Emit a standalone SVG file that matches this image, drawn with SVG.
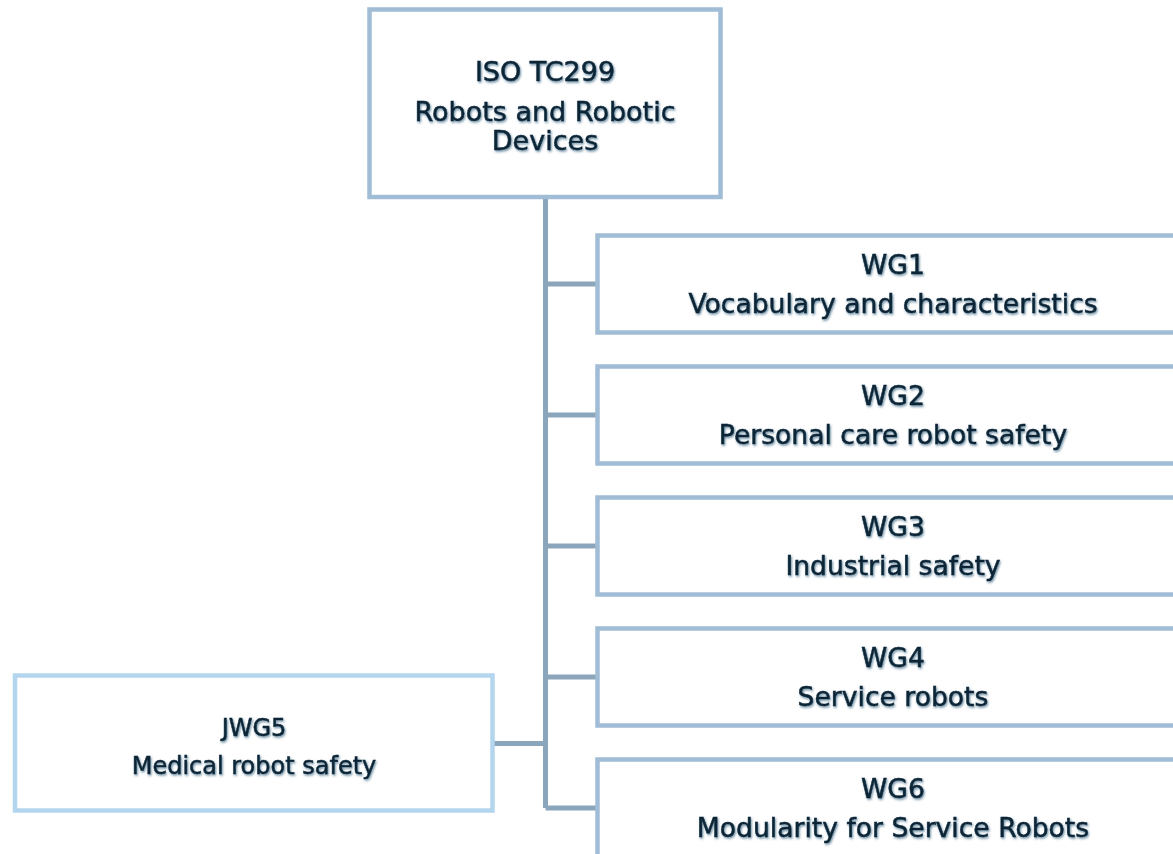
<svg xmlns="http://www.w3.org/2000/svg" width="1173" height="854" viewBox="0 0 1173 854">
<defs>
<filter id="glow" x="-10%" y="-30%" width="120%" height="160%">
<feDropShadow dx="1" dy="1.5" stdDeviation="1" flood-color="#2a5a78" flood-opacity="0.7"/>
</filter>
<style>
.box{fill:#ffffff;stroke:#a0bdd5;stroke-width:4.5}
.jbox{fill:#ffffff;stroke:#b4d5ee;stroke-width:4.5}
.conn{stroke:#8ba5bb;stroke-width:5;fill:none}
text{font-family:"DejaVu Sans","Verdana",sans-serif;font-size:26.6px;fill:#0b2536;stroke:#0b2536;stroke-width:0.5;text-anchor:middle;filter:url(#glow)}
.big{font-size:27px}
.small{font-size:24px}
</style>
</defs>
<rect width="1173" height="854" fill="#ffffff"/>
<g id="connectors">
<path class="conn" d="M545.5 199 V808"/>
<path class="conn" d="M545.5 284 H597 M545.5 415 H597 M545.5 546 H597 M545.5 677 H597 M545.5 808 H597"/>
<path class="conn" d="M494 743.5 H545.5"/>
</g>
<g id="tc299">
<rect class="box" x="369.5" y="9.5" width="351" height="187.5"/>
<text class="big" x="545" y="81">ISO TC299</text>
<text class="big" x="545" y="121">Robots and Robotic</text>
<text class="big" x="545" y="150">Devices</text>
</g>
<g id="wg1">
<rect class="box" x="597.5" y="235.5" width="591" height="97"/>
<text x="893" y="274">WG1</text>
<text x="893" y="313">Vocabulary and characteristics</text>
</g>
<g id="wg2">
<rect class="box" x="597.5" y="366.5" width="591" height="97"/>
<text x="893" y="405">WG2</text>
<text x="893" y="444">Personal care robot safety</text>
</g>
<g id="wg3">
<rect class="box" x="597.5" y="497.5" width="591" height="97"/>
<text x="893" y="536">WG3</text>
<text x="893" y="575">Industrial safety</text>
</g>
<g id="wg4">
<rect class="box" x="597.5" y="628.5" width="591" height="97"/>
<text x="893" y="667">WG4</text>
<text x="893" y="706">Service robots</text>
</g>
<g id="wg6">
<rect class="box" x="597.5" y="759.5" width="591" height="97"/>
<text x="893" y="798">WG6</text>
<text x="893" y="837">Modularity for Service Robots</text>
</g>
<g id="jwg5">
<rect class="jbox" x="15" y="675.5" width="477.5" height="135"/>
<text class="small" x="254" y="736">JWG5</text>
<text class="small" x="254" y="774">Medical robot safety</text>
</g>
</svg>
